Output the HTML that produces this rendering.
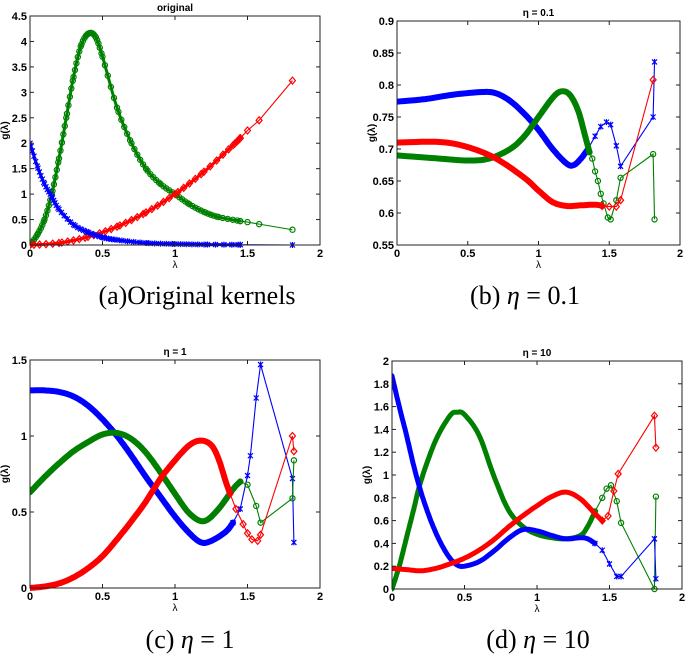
<!DOCTYPE html>
<html><head><meta charset="utf-8">
<style>
html,body{margin:0;padding:0;background:#fff;}
svg{display:block;}
text{font-family:"Liberation Sans",Arial,sans-serif;}
.cap{font-family:"Liberation Serif","DejaVu Serif",serif;font-size:26px;}
</style></head>
<body>
<svg id="fig" width="685" height="655" viewBox="0 0 685 655" xmlns="http://www.w3.org/2000/svg">
<text class="cap" x="197" y="304" text-anchor="middle">(a)Original kernels</text>
<text class="cap" x="525" y="304" text-anchor="middle">(b) <tspan font-style="italic">η</tspan> = 0.1</text>
<text class="cap" x="190" y="648" text-anchor="middle">(c) <tspan font-style="italic">η</tspan> = 1</text>
<text class="cap" x="538" y="648" text-anchor="middle">(d) <tspan font-style="italic">η</tspan> = 10</text>
</svg>
<script>
// ---- data (a) original ----
const aBlueX=[0,0.05,0.1,0.15,0.2,0.3,0.4,0.5,0.6,0.8,1.0,1.2,1.45];
const aBlueY=[2.0,1.55,1.2,0.95,0.7,0.4,0.25,0.15,0.1,0.04,0.02,0.01,0.005];
const aBlueTX=[1.45,1.81];
const aBlueTY=[0.005,0.0];
const aGreenX=[0,0.05,0.1,0.15,0.2,0.25,0.3,0.35,0.4,0.45,0.5,0.6,0.7,0.8,0.9,1.0,1.1,1.2,1.3,1.45];
const aGreenY=[0,0.2,0.5,1.0,1.7,2.5,3.3,3.9,4.15,4.1,3.7,2.7,2.0,1.5,1.2,1.0,0.8,0.65,0.55,0.47];
const aGreenTX=[1.45,1.5,1.58,1.81];
const aGreenTY=[0.47,0.45,0.41,0.3];
const aRedX=[0,0.2,0.4,0.6,0.8,1.0,1.2,1.4,1.45];
const aRedY=[0,0.04,0.16,0.36,0.64,1.0,1.44,1.96,2.1];
const aRedTX=[1.45,1.5,1.58,1.81];
const aRedTY=[2.1,2.25,2.45,3.23];
// ---- data (b) eta=0.1 ----
const bBlueX=[0,0.2,0.4,0.6,0.7,0.8,0.9,1.0,1.1,1.2,1.25,1.3,1.35];
const bBlueY=[0.774,0.778,0.785,0.789,0.787,0.775,0.755,0.73,0.70,0.677,0.675,0.685,0.70];
const bBlueTX=[1.35,1.4,1.44,1.48,1.51,1.55,1.58,1.81,1.82];
const bBlueTY=[0.70,0.72,0.735,0.742,0.738,0.705,0.673,0.750,0.836];
const bGreenX=[0,0.3,0.5,0.65,0.8,0.9,1.0,1.1,1.16,1.22,1.28,1.33,1.36];
const bGreenY=[0.69,0.685,0.682,0.685,0.70,0.72,0.75,0.78,0.79,0.785,0.76,0.72,0.695];
const bGreenTX=[1.36,1.38,1.4,1.42,1.44,1.46,1.49,1.51,1.55,1.58,1.81,1.82];
const bGreenTY=[0.695,0.685,0.665,0.65,0.63,0.615,0.593,0.59,0.62,0.655,0.692,0.59];
const bRedX=[0,0.3,0.5,0.7,0.9,1.0,1.1,1.2,1.3,1.4,1.45];
const bRedY=[0.71,0.711,0.703,0.685,0.655,0.635,0.617,0.611,0.612,0.613,0.611];
const bRedTX=[1.45,1.5,1.55,1.58,1.81];
const bRedTY=[0.611,0.61,0.61,0.62,0.808];
// ---- data (c) eta=1 ----
const cBlueX=[0,0.1,0.2,0.3,0.4,0.5,0.6,0.7,0.8,0.9,1.0,1.1,1.18,1.25,1.35,1.4];
const cBlueY=[1.3,1.3,1.29,1.26,1.2,1.11,1.0,0.87,0.73,0.6,0.47,0.36,0.30,0.31,0.37,0.43];
const cBlueTX=[1.4,1.45,1.5,1.52,1.56,1.59,1.81,1.82];
const cBlueTY=[0.43,0.52,0.74,0.87,1.25,1.47,0.72,0.30];
const cGreenX=[0,0.1,0.2,0.3,0.4,0.5,0.6,0.7,0.8,0.9,1.0,1.1,1.2,1.3,1.4,1.45];
const cGreenY=[0.63,0.73,0.82,0.90,0.96,1.01,1.02,0.98,0.89,0.76,0.62,0.49,0.44,0.52,0.65,0.70];
const cGreenTX=[1.45,1.5,1.56,1.59,1.81,1.82];
const cGreenTY=[0.70,0.68,0.54,0.43,0.59,0.84];
const cRedX=[0,0.1,0.2,0.3,0.4,0.5,0.6,0.7,0.8,0.9,1.0,1.1,1.18,1.25,1.3,1.35,1.38];
const cRedY=[0,0.01,0.03,0.07,0.13,0.21,0.32,0.44,0.57,0.72,0.84,0.94,0.97,0.94,0.85,0.70,0.62];
const cRedTX=[1.38,1.42,1.47,1.5,1.53,1.57,1.59,1.81,1.82];
const cRedTY=[0.62,0.52,0.42,0.36,0.32,0.31,0.35,1.0,0.9];
// ---- data (d) eta=10 ----
const dBlueX=[0,0.05,0.1,0.15,0.2,0.25,0.3,0.35,0.4,0.45,0.5,0.6,0.7,0.8,0.9,1.0,1.1,1.2,1.3,1.35,1.4];
const dBlueY=[1.87,1.6,1.35,1.08,0.85,0.66,0.5,0.37,0.27,0.21,0.2,0.24,0.33,0.44,0.52,0.51,0.47,0.44,0.45,0.44,0.40];
const dBlueTX=[1.4,1.45,1.5,1.55,1.58,1.81,1.82];
const dBlueTY=[0.40,0.34,0.22,0.11,0.11,0.44,0.09];
const dGreenX=[0,0.05,0.1,0.15,0.2,0.3,0.4,0.45,0.5,0.6,0.7,0.8,0.9,1.0,1.1,1.2,1.3,1.35,1.4];
const dGreenY=[0,0.2,0.45,0.7,0.95,1.3,1.52,1.55,1.53,1.35,1.0,0.7,0.55,0.48,0.45,0.44,0.47,0.55,0.68];
const dGreenTX=[1.4,1.45,1.48,1.51,1.55,1.58,1.81,1.82];
const dGreenTY=[0.68,0.8,0.88,0.91,0.77,0.58,0,0.81];
const dRedX=[0,0.1,0.2,0.3,0.4,0.5,0.6,0.7,0.8,0.9,1.0,1.1,1.2,1.3,1.4,1.45];
const dRedY=[0.18,0.17,0.16,0.18,0.22,0.27,0.34,0.43,0.54,0.64,0.73,0.81,0.85,0.79,0.66,0.60];
const dRedTX=[1.45,1.49,1.53,1.56,1.81,1.82];
const dRedTY=[0.60,0.64,0.86,1.01,1.52,1.24];
// tick labels
const aYTicks=[0,0.5,1,1.5,2,2.5,3,3.5,4,4.5];
const bYTicks=[0.55,0.6,0.65,0.7,0.75,0.8,0.85,0.9];
const cYTicks=[0,0.5,1,1.5];
const dYTicks=[0,0.2,0.4,0.6,0.8,1,1.2,1.4,1.6,1.8,2];
const xTicks=[0,0.5,1,1.5,2];

const NS="http://www.w3.org/2000/svg";
const svg=document.getElementById('fig');
function mk(tag,attrs,parent){const e=document.createElementNS(NS,tag);for(const k in attrs)e.setAttribute(k,attrs[k]);(parent||svg).appendChild(e);return e;}
function catmull(pts){
  let out=[];
  for(let i=0;i<pts.length-1;i++){
    const p0=pts[Math.max(0,i-1)],p1=pts[i],p2=pts[i+1],p3=pts[Math.min(pts.length-1,i+2)];
    for(let t=0;t<1;t+=0.1){
      const t2=t*t,t3=t2*t;
      out.push([0.5*((2*p1[0])+(-p0[0]+p2[0])*t+(2*p0[0]-5*p1[0]+4*p2[0]-p3[0])*t2+(-p0[0]+3*p1[0]-3*p2[0]+p3[0])*t3),
                0.5*((2*p1[1])+(-p0[1]+p2[1])*t+(2*p0[1]-5*p1[1]+4*p2[1]-p3[1])*t2+(-p0[1]+3*p1[1]-3*p2[1]+p3[1])*t3)]);
    }
  }
  out.push(pts[pts.length-1]);return out;
}
function marker(g,x,y,kind,color){
  if(kind==='o'){mk('circle',{cx:x,cy:y,r:2.6,fill:'none',stroke:color,'stroke-width':1.2},g);}
  else if(kind==='x'){mk('path',{d:`M${x-2.5},${y-2.5}L${x+2.5},${y+2.5}M${x-2.5},${y+2.5}L${x+2.5},${y-2.5}M${x},${y-3}L${x},${y+3}`,stroke:color,'stroke-width':1.2,fill:'none'},g);}
  else {mk('path',{d:`M${x},${y-3.5}L${x+3},${y}L${x},${y+3.5}L${x-3},${y}Z`,stroke:color,'stroke-width':1.2,fill:'none'},g);}
}
function plot(id,ax,ymin,ymax,yticks,title,series,bandW){
  const g=mk('g',{});
  
  
  const X=v=>ax.l+(v-0)/(2-0)*(ax.r-ax.l);
  const Y=v=>ax.b-(v-ymin)/(ymax-ymin)*(ax.b-ax.t);
  const clip='clip'+id;
  const cp=mk('clipPath',{id:clip},g);mk('rect',{x:ax.l,y:ax.t-4,width:ax.r-ax.l,height:ax.b-ax.t+8},cp);
  const dg=mk('g',{'clip-path':`url(#${clip})`},g);
  series.forEach(s=>{
    const sg=mk('g',{},dg);
    
    
    const pts=s.x.map((v,i)=>[X(v),Y(s.y[i])]);
    const cur=catmull(pts);
    const d='M'+cur.map(p=>p[0].toFixed(1)+','+p[1].toFixed(1)).join('L');
    const band=mk('path',{d:d,stroke:s.c,'stroke-width':bandW,fill:'none','stroke-linejoin':'round','stroke-linecap':'round'},sg);
    
    
    const tp=s.tx.map((v,i)=>[X(v),Y(s.ty[i])]);
    const tl=mk('polyline',{points:tp.map(p=>p.join(',')).join(' '),stroke:s.c,'stroke-width':1.1,fill:'none'},sg);
    
    
    tp.forEach(p=>marker(sg,p[0],p[1],s.m,s.c));
    if(bandW<4){for(let i=0;i<cur.length;i+=2)marker(sg,cur[i][0],cur[i][1],s.m,s.c);}
  });
  const box=mk('rect',{x:ax.l,y:ax.t,width:ax.r-ax.l,height:ax.b-ax.t,fill:'none',stroke:'#222','stroke-width':1},g);
  
  
  xTicks.forEach(v=>{
    const x=X(v);
    mk('line',{x1:x,y1:ax.b,x2:x,y2:ax.b-4,stroke:'#222'},g);
    mk('line',{x1:x,y1:ax.t,x2:x,y2:ax.t+4,stroke:'#222'},g);
    const t=mk('text',{x:x,y:ax.b+12,'text-anchor':'middle','font-size':11,'font-weight':'bold'},g);
    t.textContent=String(v);
    
    
  });
  yticks.forEach(v=>{
    const y=Y(v);
    mk('line',{x1:ax.l,y1:y,x2:ax.l+4,y2:y,stroke:'#222'},g);
    mk('line',{x1:ax.r,y1:y,x2:ax.r-4,y2:y,stroke:'#222'},g);
    const t=mk('text',{x:ax.l-3,y:y+4,'text-anchor':'end','font-size':11,'font-weight':'bold'},g);
    t.textContent=String(v);
    
    
  });
  const xt=mk('text',{x:(ax.l+ax.r)/2,y:ax.b+23,'text-anchor':'middle','font-size':10},g);
  xt.textContent='λ';
  
  
  const yx=ax.l-22,yy=(ax.t+ax.b)/2;
  const yt=mk('text',{x:yx,y:yy,'text-anchor':'middle','font-size':10,'font-weight':'bold',transform:`rotate(-90 ${yx} ${yy})`},g);
  yt.textContent='g(λ)';
  
  
  const tt=mk('text',{x:(ax.l+ax.r)/2,y:ax.t-5,'text-anchor':'middle','font-size':10,'font-weight':'bold'},g);
  tt.textContent=title;
  
  
}
plot('a',{l:30,r:320,t:16,b:245},0,4.5,aYTicks,'original',[
 {name:'green',x:aGreenX,y:aGreenY,tx:aGreenTX,ty:aGreenTY,c:'#008000',m:'o'},
 {name:'red',x:aRedX,y:aRedY,tx:aRedTX,ty:aRedTY,c:'#ff0000',m:'d'},
 {name:'blue',x:aBlueX,y:aBlueY,tx:aBlueTX,ty:aBlueTY,c:'#0000ff',m:'x'}],3);
plot('b',{l:397,r:680,t:21,b:245},0.55,0.9,bYTicks,'η = 0.1',[
 {name:'blue',x:bBlueX,y:bBlueY,tx:bBlueTX,ty:bBlueTY,c:'#0000ff',m:'x'},
 {name:'green',x:bGreenX,y:bGreenY,tx:bGreenTX,ty:bGreenTY,c:'#008000',m:'o'},
 {name:'red',x:bRedX,y:bRedY,tx:bRedTX,ty:bRedTY,c:'#ff0000',m:'d'}],6);
plot('c',{l:30,r:320,t:360,b:588},0,1.5,cYTicks,'η = 1',[
 {name:'blue',x:cBlueX,y:cBlueY,tx:cBlueTX,ty:cBlueTY,c:'#0000ff',m:'x'},
 {name:'green',x:cGreenX,y:cGreenY,tx:cGreenTX,ty:cGreenTY,c:'#008000',m:'o'},
 {name:'red',x:cRedX,y:cRedY,tx:cRedTX,ty:cRedTY,c:'#ff0000',m:'d'}],6);
plot('d',{l:392,r:682,t:361,b:589},0,2,dYTicks,'η = 10',[
 {name:'green',x:dGreenX,y:dGreenY,tx:dGreenTX,ty:dGreenTY,c:'#008000',m:'o'},
 {name:'blue',x:dBlueX,y:dBlueY,tx:dBlueTX,ty:dBlueTY,c:'#0000ff',m:'x'},
 {name:'red',x:dRedX,y:dRedY,tx:dRedTX,ty:dRedTY,c:'#ff0000',m:'d'}],5);
</script>
</body></html>
